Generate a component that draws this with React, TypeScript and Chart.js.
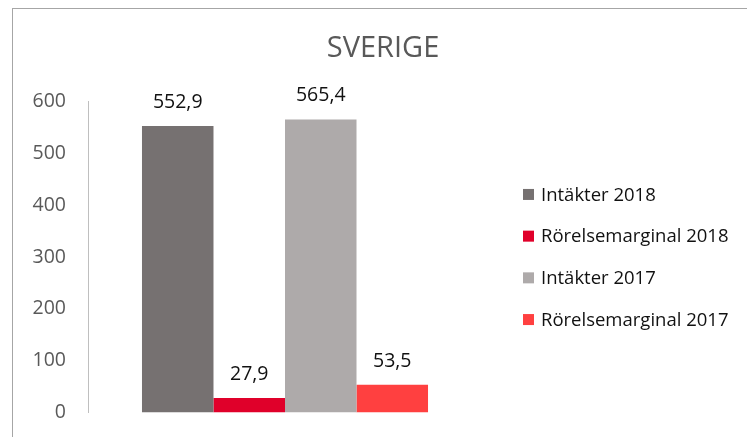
import React, { useEffect, useRef } from "react";
import { Chart, registerables } from "chart.js";

Chart.register(...registerables);

const categories = [""];
const seriesNames = ["Intäkter 2018", "Rörelsemarginal 2018", "Intäkter 2017", "Rörelsemarginal 2017"];
const intakter2018 = [552.9];
const rorelse2018 = [27.9];
const intakter2017 = [565.4];
const rorelse2017 = [53.5];
const seriesColors = ["#767171", "#E0002A", "#AEAAAA", "#FF4040"];
const yTicks = [0, 100, 200, 300, 400, 500, 600];
const titleText = "SVERIGE";

const FONT = "'Open Sans', 'Liberation Sans', sans-serif";

const framePlugin = {
  id: "frame",
  beforeDraw(chart: any) {
    const ctx = chart.ctx;
    ctx.save();
    ctx.fillStyle = "#ffffff";
    ctx.fillRect(0, 0, chart.width, chart.height);
    ctx.strokeStyle = "#a6a6a6";
    ctx.lineWidth = 1;
    ctx.strokeRect(12.5, 8.5, chart.width + 20, chart.height + 20);
    ctx.font = `29px ${FONT}`;
    ctx.fillStyle = "#595959";
    ctx.textAlign = "center";
    ctx.textBaseline = "middle";
    ctx.fillText(titleText, 383, 49);
    ctx.restore();
  },
};

const labelPlugin = {
  id: "valueLabels",
  afterDatasetsDraw(chart: any) {
    const ctx = chart.ctx;
    ctx.save();
    ctx.font = `19.5px ${FONT}`;
    ctx.fillStyle = "#111111";
    ctx.textAlign = "center";
    ctx.textBaseline = "middle";
    chart.data.datasets.forEach((ds: any, i: number) => {
      const meta = chart.getDatasetMeta(i);
      meta.data.forEach((el: any, j: number) => {
        const v = ds.data[j];
        const txt = v.toFixed(1).replace(".", ",");
        ctx.fillText(txt, el.x, el.y - 23.5);
      });
    });
    ctx.restore();
  },
};

const legendPlugin = {
  id: "customLegend",
  afterDraw(chart: any) {
    const ctx = chart.ctx;
    const area = chart.chartArea;
    const cy = (area.top + area.bottom) / 2;
    const n = chart.data.datasets.length;
    const spacing = 41.7;
    const x0 = area.right + 41;
    ctx.save();
    ctx.font = `18.5px ${FONT}`;
    ctx.textAlign = "left";
    ctx.textBaseline = "middle";
    chart.data.datasets.forEach((ds: any, i: number) => {
      const y = cy + (i - (n - 1) / 2) * spacing;
      ctx.fillStyle = ds.backgroundColor;
      ctx.fillRect(x0, y - 5.5, 11, 11);
      ctx.fillStyle = "#111111";
      ctx.fillText(ds.label, x0 + 18, y + 1);
    });
    ctx.restore();
  },
};

export default function App() {
  const ref = useRef<HTMLCanvasElement>(null);
  useEffect(() => {
    if (!ref.current) return;
    const values = [intakter2018, rorelse2018, intakter2017, rorelse2017];
    const chart = new Chart(ref.current, {
      type: "bar",
      data: {
        labels: categories,
        datasets: values.map((d, i) => ({
          label: seriesNames[i],
          data: d,
          backgroundColor: seriesColors[i],
          borderWidth: 0,
          barPercentage: 1,
          categoryPercentage: 0.726,
        })),
      },
      options: {
        responsive: false,
        animation: false,
        layout: { padding: { left: 0, right: 265, top: 101.5, bottom: 24.5 } },
        plugins: {
          legend: { display: false },
          tooltip: { enabled: false },
          title: { display: false },
        },
        scales: {
          x: { display: false },
          y: {
            min: 0,
            max: 600,
            afterFit(scale: any) {
              scale.width = 88;
              scale.paddingTop = 0;
              scale.paddingBottom = 0;
            },
            afterBuildTicks(scale: any) {
              scale.ticks = yTicks.map((v) => ({ value: v }));
            },
            grid: { display: false, drawTicks: false },
            border: { display: true, color: "#bfbfbf", width: 1 },
            ticks: {
              padding: 22,
              color: "#595959",
              font: { family: FONT, size: 19.5 },
            },
          },
        },
      },
      plugins: [framePlugin, labelPlugin, legendPlugin],
    });
    return () => chart.destroy();
  }, []);
  return (
    <div style={{ position: "fixed", left: 0, top: 0, width: 747, height: 437 }}>
      <canvas ref={ref} width={747} height={437} style={{ display: "block" }} />
    </div>
  );
}
